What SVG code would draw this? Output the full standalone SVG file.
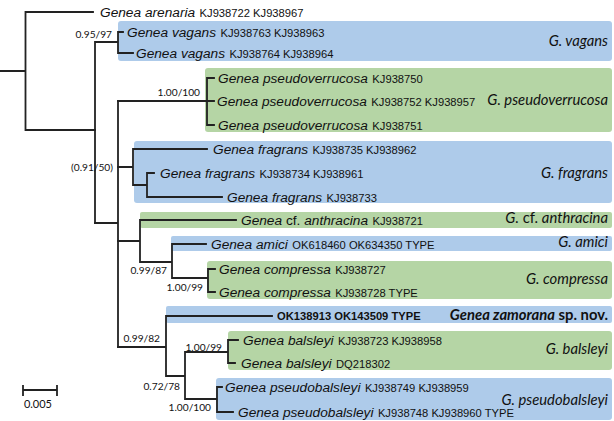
<svg xmlns="http://www.w3.org/2000/svg" width="614" height="421" viewBox="0 0 614 421">
<style>
.bg{fill:#fff}
.bl{fill:#aecbea}
.gr{fill:#b5d5a5}
.ln{stroke:#222;stroke-width:1.8;fill:none;stroke-linecap:square}
.leaf{font-family:"Liberation Sans",Arial,sans-serif;fill:#111}
.sp{font-style:italic;font-size:13.7px}
.acc{font-size:11.2px}
.b{font-weight:bold}
.sup{font-family:Lato,"Open Sans",sans-serif;font-size:10.2px;fill:#111;text-anchor:end}
.cl{font-family:Lato,"Open Sans",sans-serif;font-size:14.8px;fill:#111;text-anchor:end}
.it{font-style:italic}
</style>
<rect class="bg" x="0" y="0" width="614" height="421"/>
<g id="boxes">
<rect id="box-vagans" class="bl" x="118" y="21" width="494" height="40" rx="3"/>
<rect id="box-pseudoverrucosa" class="gr" x="205" y="68" width="407" height="64" rx="3"/>
<rect id="box-fragrans" class="bl" x="134" y="141" width="478" height="62" rx="3"/>
<rect id="box-anthracina" class="gr" x="140" y="212" width="472" height="16" rx="2"/>
<rect id="box-amici" class="bl" x="171" y="236" width="441" height="15" rx="2"/>
<rect id="box-compressa" class="gr" x="207" y="261" width="405" height="38" rx="3"/>
<rect id="box-zamorana" class="bl" x="166" y="306" width="446" height="17" rx="2"/>
<rect id="box-balsleyi" class="gr" x="228" y="331" width="384" height="39" rx="3"/>
<rect id="box-pseudobalsleyi" class="bl" x="216" y="378" width="396" height="42" rx="3"/>
</g>
<g id="connectors">
<path class="ln" d="M0 71H25.5M25.5 12V130M25.5 12H93M25.5 130H95"/>
<path class="ln" d="M95 42V223M95 42H118M118 32V53M118 32H123M118 53H133"/>
<path class="ln" d="M95 223H118M118 101V347"/>
<path class="ln" d="M118 101H207M207 78V125M207 78H214M207 101H214M207 125H214"/>
<path class="ln" d="M118 167H133M133 149V185M133 149H207M133 185H147M147 173V197M147 173H154M147 197H222"/>
<path class="ln" d="M118 241H140M140 220V262M140 220H236M140 262H172M172 244V278M172 244H206M172 278H208M208 269V292M208 269H215M208 292H215"/>
<path class="ln" d="M118 347H166M166 316V376M166 316H272M166 376H185M185 352V399M185 352H228M228 340V363M228 340H238M228 363H235M185 399H217M217 387V412M217 387H222M217 412H233"/>
<path class="ln" d="M23 390H57M23 386V395M57 386V395"/>
</g>
<g id="leaves">
<g id="n-arenaria"><text class="leaf" x="100" y="17"><tspan class="sp">Genea arenaria</tspan> <tspan class="acc">KJ938722 KJ938967</tspan></text></g>
<g id="n-vagans1"><text class="leaf" x="127" y="37"><tspan class="sp">Genea vagans</tspan> <tspan class="acc">KJ938763 KJ938963</tspan></text></g>
<g id="n-vagans2"><text class="leaf" x="136" y="58"><tspan class="sp">Genea vagans</tspan> <tspan class="acc">KJ938764 KJ938964</tspan></text></g>
<g id="n-pv1"><text class="leaf" x="218" y="83"><tspan class="sp">Genea pseudoverrucosa</tspan> <tspan class="acc">KJ938750</tspan></text></g>
<g id="n-pv2"><text class="leaf" x="217" y="106"><tspan class="sp">Genea pseudoverrucosa</tspan> <tspan class="acc">KJ938752 KJ938957</tspan></text></g>
<g id="n-pv3"><text class="leaf" x="218" y="130"><tspan class="sp">Genea pseudoverrucosa</tspan> <tspan class="acc">KJ938751</tspan></text></g>
<g id="n-fr1"><text class="leaf" x="213" y="154"><tspan class="sp">Genea fragrans</tspan> <tspan class="acc">KJ938735 KJ938962</tspan></text></g>
<g id="n-fr2"><text class="leaf" x="160" y="178"><tspan class="sp">Genea fragrans</tspan> <tspan class="acc">KJ938734 KJ938961</tspan></text></g>
<g id="n-fr3"><text class="leaf" x="227" y="202"><tspan class="sp">Genea fragrans</tspan> <tspan class="acc">KJ938733</tspan></text></g>
<g id="n-anth"><text class="leaf" x="241" y="225"><tspan class="sp">Genea</tspan><tspan style="font-size:13.7px"> cf. </tspan><tspan class="sp">anthracina</tspan> <tspan class="acc">KJ938721</tspan></text></g>
<g id="n-amici"><text class="leaf" x="211" y="249"><tspan class="sp">Genea amici</tspan> <tspan class="acc">OK618460 OK634350 TYPE</tspan></text></g>
<g id="n-comp1"><text class="leaf" x="219" y="274"><tspan class="sp">Genea compressa</tspan> <tspan class="acc">KJ938727</tspan></text></g>
<g id="n-comp2"><text class="leaf" x="219" y="297"><tspan class="sp">Genea compressa</tspan> <tspan class="acc">KJ938728 TYPE</tspan></text></g>
<g id="n-zam"><text class="leaf acc b" x="277" y="320">OK138913 OK143509 TYPE</text></g>
<g id="n-bal1"><text class="leaf" x="243" y="345"><tspan class="sp">Genea balsleyi</tspan> <tspan class="acc">KJ938723 KJ938958</tspan></text></g>
<g id="n-bal2"><text class="leaf" x="241" y="368"><tspan class="sp">Genea balsleyi</tspan> <tspan class="acc">DQ218302</tspan></text></g>
<g id="n-pb1"><text class="leaf" x="225" y="392"><tspan class="sp">Genea pseudobalsleyi</tspan> <tspan class="acc">KJ938749 KJ938959</tspan></text></g>
<g id="n-pb2"><text class="leaf" x="238" y="417"><tspan class="sp">Genea pseudobalsleyi</tspan> <tspan class="acc">KJ938748 KJ938960 TYPE</tspan></text></g>
</g>
<g id="support">
<text class="sup" x="112" y="37.5">0.95/97</text>
<text class="sup" x="200" y="95.5">1.00/100</text>
<text class="sup" x="113" y="170.5">(0.91/50)</text>
<text class="sup" x="167" y="273.5">0.99/87</text>
<text class="sup" x="203" y="290.5">1.00/99</text>
<text class="sup" x="160" y="341.5">0.99/82</text>
<text class="sup" x="222" y="350.5">1.00/99</text>
<text class="sup" x="180" y="389.5">0.72/78</text>
<text class="sup" x="211" y="410.5">1.00/100</text>
</g>
<g id="clades">
<text class="cl it" x="608" y="46">G. vagans</text>
<text class="cl it" x="608" y="105">G. pseudoverrucosa</text>
<text class="cl it" x="608" y="178">G. fragrans</text>
<text class="cl" x="608" y="223"><tspan class="it">G.</tspan> cf. <tspan class="it">anthracina</tspan></text>
<text class="cl it" x="608" y="247">G. amici</text>
<text class="cl it" x="608" y="284">G. compressa</text>
<text class="cl b" x="608" y="320"><tspan class="it">Genea zamorana</tspan> sp. nov.</text>
<text class="cl it" x="608" y="354">G. balsleyi</text>
<text class="cl it" x="608" y="405">G. pseudobalsleyi</text>
</g>
<g id="scale">
<text class="sup" x="52" y="408" style="font-size:11px">0.005</text>
</g>
</svg>
